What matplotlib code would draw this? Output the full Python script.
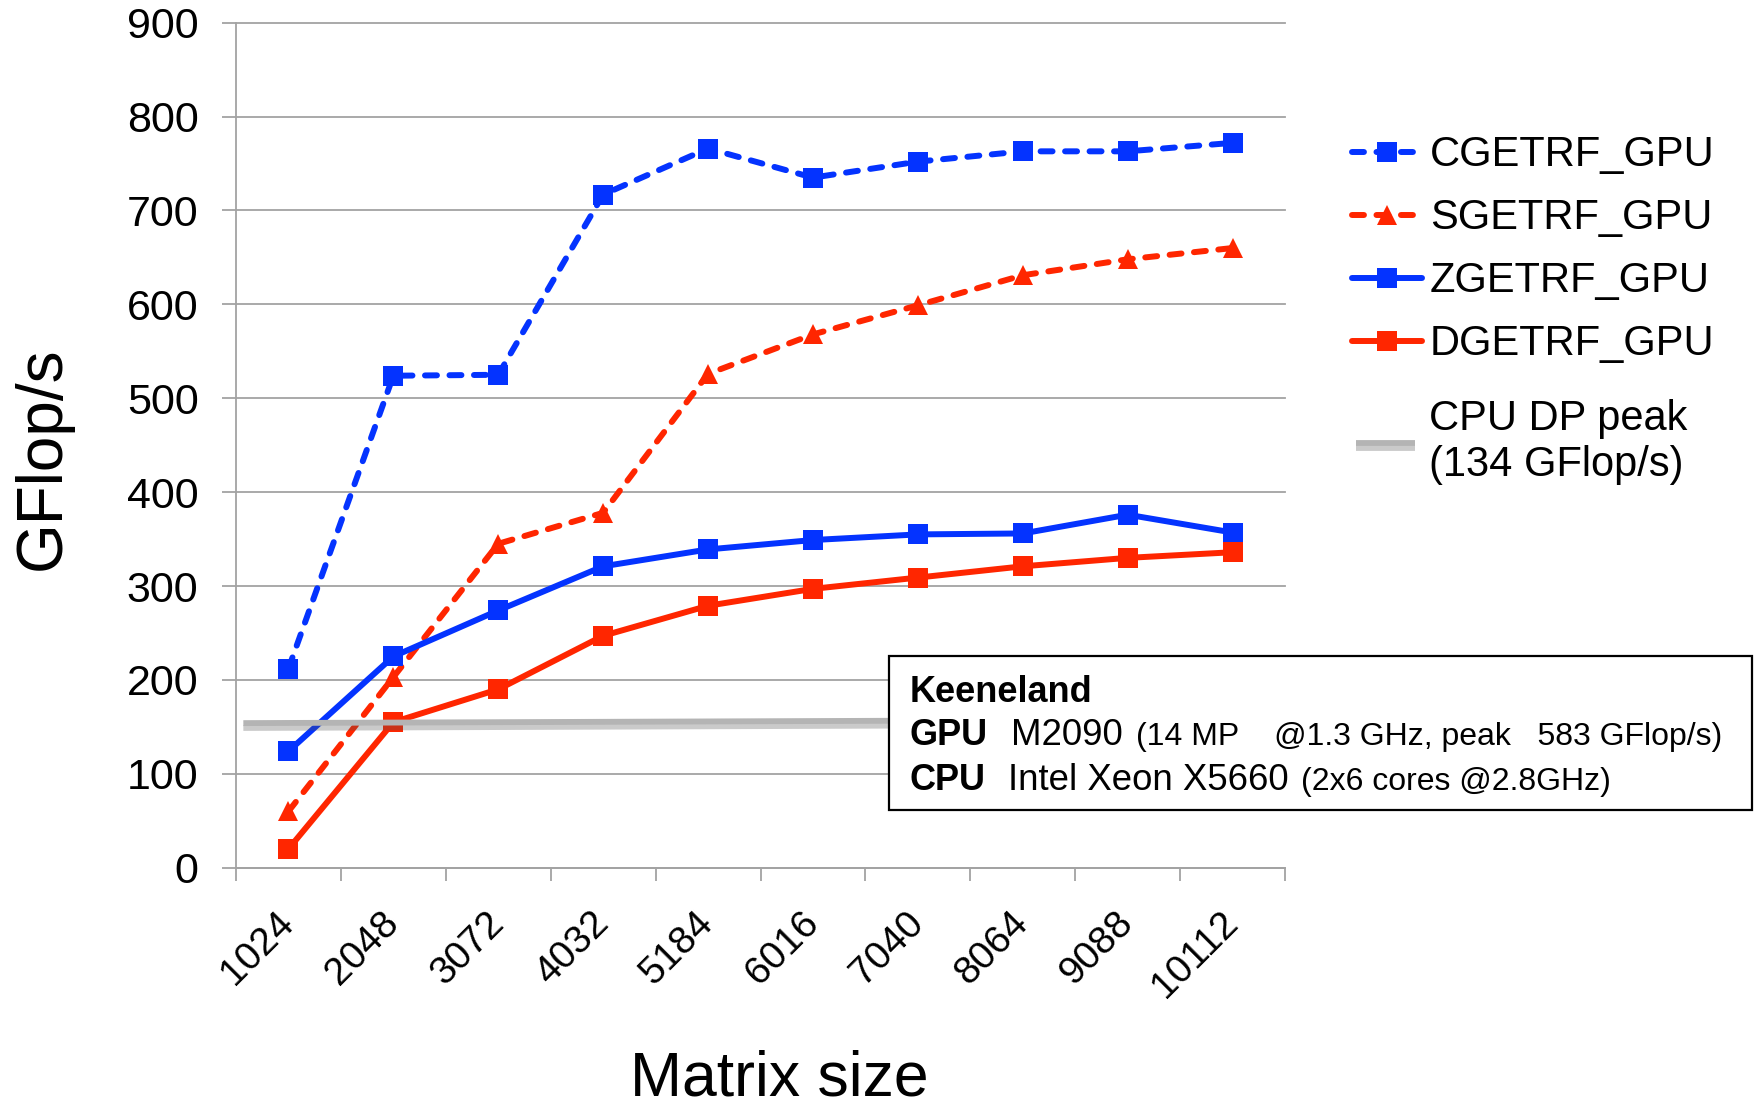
import numpy as np
import matplotlib
matplotlib.use("Agg")
import matplotlib.pyplot as plt
from matplotlib.patches import Rectangle
import matplotlib.patheffects as pe

# ---- data -------------------------------------------------------------
matrix_sizes = ["1024", "2048", "3072", "4032", "5184", "6016",
                "7040", "8064", "9088", "10112"]
cgetrf_gpu = [212, 524, 525, 717, 766, 735, 752, 763, 763, 772]
sgetrf_gpu = [60, 203, 345, 378, 526, 568, 599, 631, 648, 660]
zgetrf_gpu = [124, 225, 274, 321, 339, 349, 355, 356, 376, 357]
dgetrf_gpu = [20, 155, 190, 247, 279, 297, 309, 321, 330, 336]
cpu_peak_drawn = [154, 158]          # reference line as drawn (start, end)
y_ticks = [0, 100, 200, 300, 400, 500, 600, 700, 800, 900]

series_labels = ["CGETRF_GPU", "SGETRF_GPU", "ZGETRF_GPU", "DGETRF_GPU"]
cpu_label = "CPU DP peak\n(134 GFlop/s)"

# ---- style ------------------------------------------------------------
plt.rcParams["font.family"] = ["Liberation Sans", "DejaVu Sans"]
W, H = 1754, 1107
BLUE = "#0433ff"
RED = "#ff2600"
GRID = "#a3a3a3"
LW = 4.3
DASH = (0, (2.0, 2.1))

fig = plt.figure(figsize=(W / 100, H / 100), dpi=100)
ax_left, ax_right, ax_top, ax_bottom = 236, 1285, 22.7, 867.7
ax = fig.add_axes([ax_left / W, 1 - ax_bottom / H,
                   (ax_right - ax_left) / W, (ax_bottom - ax_top) / H])

x = np.arange(len(matrix_sizes))
common = dict(lw=LW, ms=15, mew=0, dash_capstyle="round",
              solid_capstyle="round", zorder=3, clip_on=False)
l_c, = ax.plot(x, cgetrf_gpu, color=BLUE, ls=DASH, marker="s", **common)
l_s, = ax.plot(x, sgetrf_gpu, color=RED, ls=DASH, marker="^", **common)
l_z, = ax.plot(x, zgetrf_gpu, color=BLUE, ls="-", marker="s", **common)
l_d, = ax.plot(x, dgetrf_gpu, color=RED, ls="-", marker="s", **common)

# CPU double-precision peak reference line, drawn over the series
shadow = [pe.SimpleLineShadow(offset=(0, -3.5), shadow_color="#505050",
                              alpha=0.3), pe.Normal()]
l_cpu, = ax.plot([-0.43, 9.5], cpu_peak_drawn, color="#b4b4b4", lw=4.2,
                 solid_capstyle="butt", zorder=4, path_effects=shadow)

ax.set_xlim(-0.5, len(matrix_sizes) - 0.5)
ax.set_ylim(0, 900)

# axes, ticks, grid
for side in ("top", "right"):
    ax.spines[side].set_visible(False)
for side in ("left", "bottom"):
    ax.spines[side].set_color(GRID)
    ax.spines[side].set_linewidth(1.3)
ax.set_yticks(y_ticks)
ax.set_yticklabels([str(v) for v in y_ticks])
ax.yaxis.grid(True, color=GRID, lw=1.3, zorder=0)
for gl in ax.yaxis.get_gridlines():
    gl.set_clip_on(False)
ax.set_axisbelow(True)
ax.tick_params(axis="y", direction="out", length=10, width=1.3, color=GRID,
               pad=17, labelsize=31, labelcolor="black")

ax.set_xticks(x)
ax.set_xticklabels(matrix_sizes)
ax.set_xticks(np.arange(-0.5, len(matrix_sizes)), minor=True)
ax.tick_params(axis="x", which="major", length=0, pad=36, labelsize=28,
               labelcolor="black")
ax.tick_params(axis="x", which="minor", direction="out", length=9,
               width=1.3, color=GRID)
plt.setp(ax.get_xticklabels(), rotation=45, ha="right", va="center",
         rotation_mode="anchor")

# axis titles
ax.set_ylabel("GFlop/s", fontsize=46)
ax.yaxis.label.set_verticalalignment("center")
ax.yaxis.set_label_coords((42.5 - ax_left) / (ax_right - ax_left),
                          (ax_bottom - 458) / (ax_bottom - ax_top))
ax.set_xlabel("Matrix size", fontsize=45)
ax.xaxis.label.set_verticalalignment("baseline")
ax.xaxis.set_label_coords((779 - ax_left) / (ax_right - ax_left),
                          (ax_bottom - 1096) / (ax_bottom - ax_top))

# legends: the four solver series, then the CPU peak entry below them
leg_kw = dict(bbox_transform=fig.transFigure, frameon=False, fontsize=30,
              borderpad=0, borderaxespad=0, handletextpad=0.2, numpoints=1)
leg1 = ax.legend([l_c, l_s, l_z, l_d], series_labels, loc="upper left",
                 bbox_to_anchor=(1351.7 / W, 1 - 135.5 / H),
                 handlelength=1.68, labelspacing=0.55, **leg_kw)
ax.add_artist(leg1)
leg2 = ax.legend([l_cpu], [cpu_label], loc="center left",
                 bbox_to_anchor=(1356 / W, 1 - 442 / H),
                 handlelength=1.42, **{**leg_kw, "handletextpad": 0.33})
for t in leg2.get_texts():
    t.set_linespacing(1.2)

# system description box
fig.add_artist(Rectangle((889 / W, 1 - 810 / H), (1752 - 889) / W,
                         (810 - 656) / H, transform=fig.transFigure,
                         facecolor="white", edgecolor="black", lw=1.6,
                         zorder=10))

renderer = fig.canvas.get_renderer()


def put_runs(x0, baseline, runs):
    xc = x0
    for text, size, weight, gap in runs:
        t = fig.text(xc / W, 1 - baseline / H, text, fontsize=size,
                     fontweight=weight, va="baseline", ha="left",
                     zorder=11)
        xc += t.get_window_extent(renderer=renderer).width + gap


put_runs(909.4, 702, [("Keeneland", 26, "bold", 0)])
put_runs(909.4, 745, [("GPU", 26, "bold", 23),
                      ("M2090", 26.4, "normal", 14),
                      ("(14 MP    @1.3 GHz, peak   583 GFlop/s)", 23,
                       "normal", 0)])
put_runs(909.4, 790, [("CPU", 26, "bold", 23),
                      ("Intel Xeon X5660", 26.4, "normal", 12),
                      ("(2x6 cores @2.8GHz)", 23, "normal", 0)])

fig.savefig("out.png", dpi=100, facecolor="white")
